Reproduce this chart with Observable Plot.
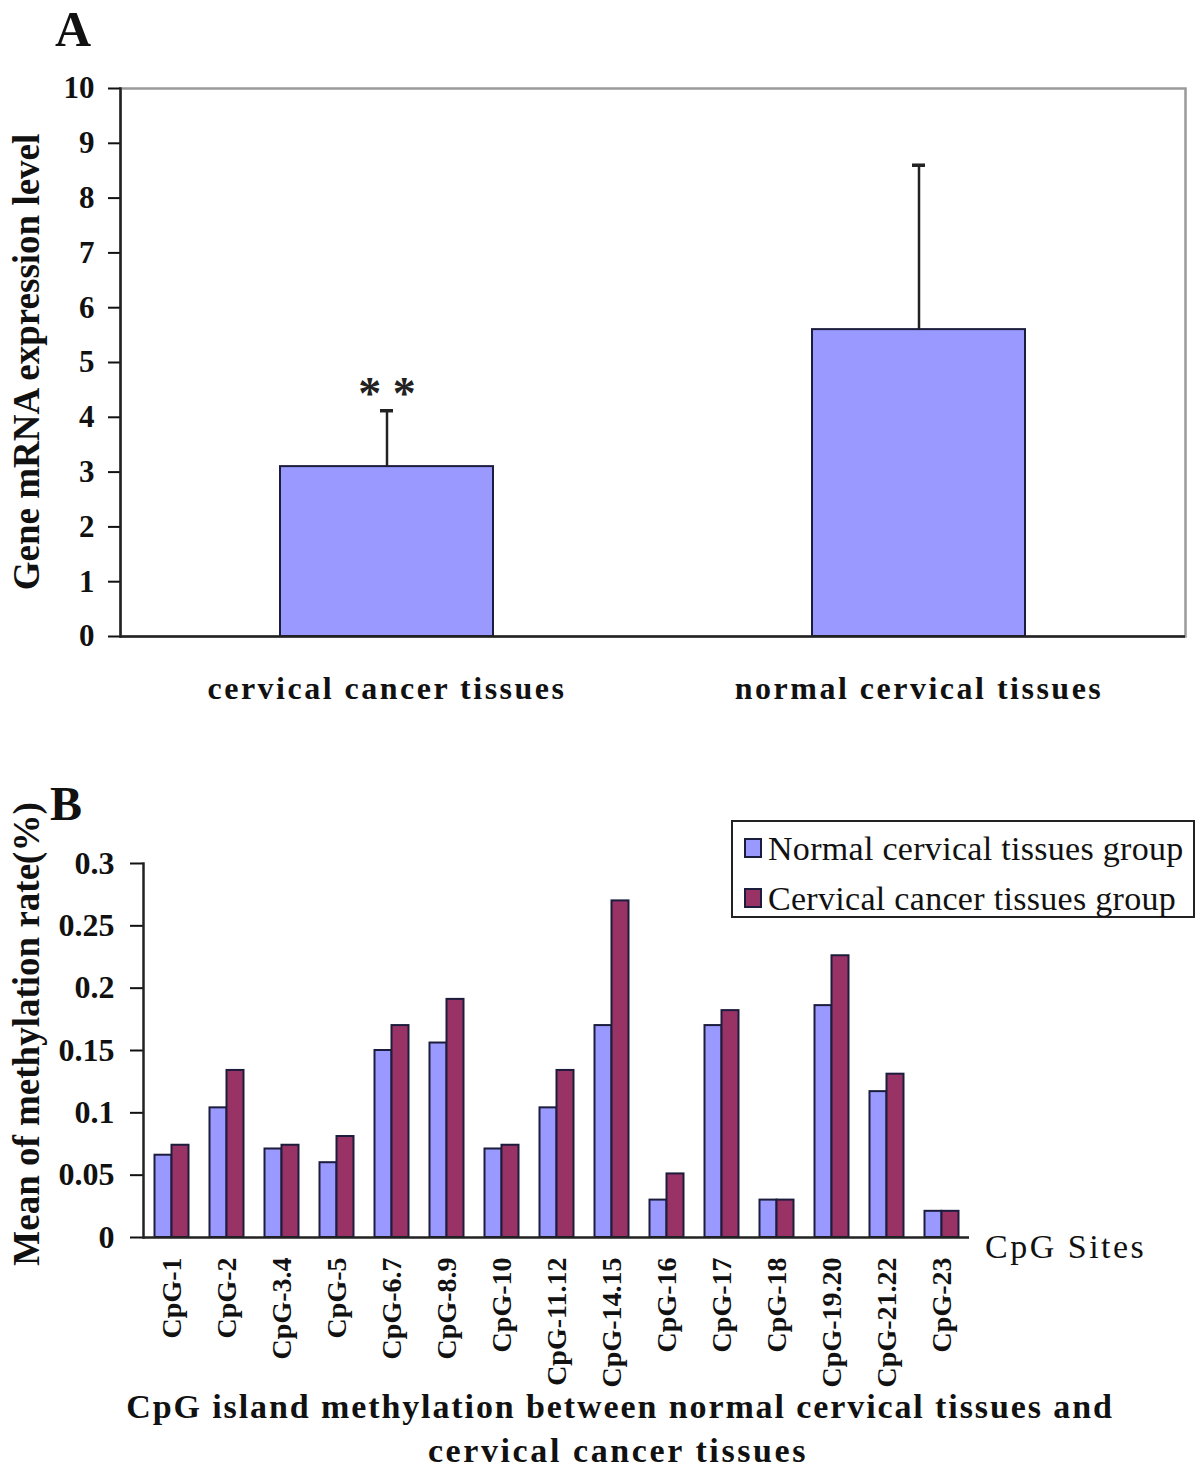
<!DOCTYPE html>
<html>
<head>
<meta charset="utf-8">
<script src="https://cdn.jsdelivr.net/npm/d3@7"></script>
<script src="https://cdn.jsdelivr.net/npm/@observablehq/plot@0.6"></script>
<style>
  html, body { margin: 0; padding: 0; background: #fff; }
  #page { position: relative; width: 1200px; height: 1471px; overflow: hidden; font-family: "Liberation Serif", "Times New Roman", serif; }
  #chartA { position: absolute; left: 0; top: 0; }
  #chartB { position: absolute; left: 0; top: 760px; }
  #overlay { position: absolute; left: 0; top: 0; pointer-events: none; }
  #overlay text { font-family: "Liberation Serif", "Times New Roman", serif; fill: #111; }
</style>
</head>
<body>
<div id="page">
  <div id="chartA"></div>
  <div id="chartB"></div>
  <svg id="overlay" width="1200" height="1471"></svg>
</div>
<script>
// ---------- Panel A data ----------
const groupsA = ["cervical cancer tissues", "normal cervical tissues"];
const meansA = [3.1, 5.6];
const errorsA = [1.02, 3.0];
const yTicksA = [0, 1, 2, 3, 4, 5, 6, 7, 8, 9, 10];
const yTitleA = "Gene mRNA expression level";
const significanceA = "* *";

// ---------- Panel B data ----------
const sites = ["CpG-1", "CpG-2", "CpG-3.4", "CpG-5", "CpG-6.7", "CpG-8.9", "CpG-10", "CpG-11.12",
               "CpG-14.15", "CpG-16", "CpG-17", "CpG-18", "CpG-19.20", "CpG-21.22", "CpG-23"];
const normalRate = [0.066, 0.104, 0.071, 0.060, 0.150, 0.156, 0.071, 0.104, 0.170, 0.030, 0.170, 0.030, 0.186, 0.117, 0.021];
const cancerRate = [0.074, 0.134, 0.074, 0.081, 0.170, 0.191, 0.074, 0.134, 0.270, 0.051, 0.182, 0.030, 0.226, 0.131, 0.021];
const seriesB = ["Normal cervical tissues group", "Cervical cancer tissues group"];
const yTicksB = [0, 0.05, 0.1, 0.15, 0.2, 0.25, 0.3];
const yTitleB = "Mean of methylation rate(%)";
const xTitleB = "CpG Sites";
const captionB = ["CpG island methylation between normal cervical tissues and", "cervical cancer tissues"];

const BLUE = "#9999ff", RED = "#993366", EDGE = "#1c1c3c";
const serif = "Liberation Serif, Times New Roman, serif";

// ---------- Panel A ----------
const dataA = groupsA.map((g, i) => ({group: g, mean: meansA[i], top: meansA[i] + errorsA[i]}));
const chartA = Plot.plot({
  width: 1200, height: 760,
  marginLeft: 120, marginRight: 15, marginTop: 88, marginBottom: 124,
  style: {fontFamily: serif, background: "white", color: "#111", overflow: "visible"},
  x: {domain: groupsA, paddingInner: 0.6, paddingOuter: 0.3, label: null},
  y: {domain: [0, 10], label: null},
  marks: [
    Plot.frame({stroke: "#9a9a9a", strokeWidth: 2.5}),
    Plot.axisY({ticks: yTicksA, tickSize: 12, tickPadding: 14, fontSize: 31, fontWeight: "bold", label: null, strokeWidth: 2}),
    Plot.axisX({tickSize: 0, tickPadding: 40, fontSize: 32, fontWeight: "bold", label: null}),
    Plot.barY(dataA, {x: "group", y: "mean", fill: BLUE, stroke: EDGE, strokeWidth: 2}),
    Plot.ruleX(dataA, {x: "group", y1: "mean", y2: "top", stroke: "#222", strokeWidth: 2.5}),
    Plot.tickY(dataA, {x: "group", y: "top", stroke: "#222", strokeWidth: 3.5, insetLeft: 100, insetRight: 100}),
    Plot.ruleY([0], {stroke: "#222", strokeWidth: 2.5}),
    Plot.frame({anchor: "left", stroke: "#222", strokeWidth: 2.5}),
    Plot.text(dataA.slice(0, 1), {x: "group", y: "top", text: () => significanceA, dy: -16, fontSize: 46, fontWeight: "bold", fill: "#222"})
  ]
});
document.getElementById("chartA").appendChild(chartA);
// letter spacing for category labels (axis text)
d3.select(chartA).selectAll("[aria-label='x-axis tick label'] text").attr("letter-spacing", 2.5);

// ---------- Panel B ----------
const dataB = sites.map((s, i) => ({site: s, normal: normalRate[i], cancer: cancerRate[i]}));
const fmt = d => String(+d.toFixed(2));
const chartB = Plot.plot({
  width: 1200, height: 711,
  marginLeft: 143, marginRight: 231, marginTop: 103, marginBottom: 234,
  style: {fontFamily: serif, background: "white", color: "#111", overflow: "visible"},
  x: {domain: sites, padding: 0, label: null},
  y: {domain: [0, 0.3], label: null},
  marks: [
    Plot.axisY({ticks: yTicksB, tickFormat: fmt, tickSize: 13, tickPadding: 16, fontSize: 32, fontWeight: "bold", label: null, strokeWidth: 2}),
    Plot.axisX({tickSize: 0, tickPadding: 20, tickRotate: -90, fontSize: 28, fontWeight: "bold", label: null}),
    Plot.barY(dataB, {x: "site", y: "normal", fill: BLUE, stroke: EDGE, strokeWidth: 2, insetLeft: 10.5, insetRight: 27.5}),
    Plot.barY(dataB, {x: "site", y: "cancer", fill: RED, stroke: EDGE, strokeWidth: 2, insetLeft: 27.5, insetRight: 10.5}),
    Plot.ruleY([0], {stroke: "#222", strokeWidth: 2.5}),
    Plot.frame({anchor: "left", stroke: "#222", strokeWidth: 2.5})
  ]
});
document.getElementById("chartB").appendChild(chartB);

// ---------- Overlay text: panel letters, titles, legend ----------
const ov = d3.select("#overlay");
function txt(x, y, s, opts = {}) {
  const t = ov.append("text").attr("x", x).attr("y", y).text(s)
    .attr("font-size", opts.size || 30)
    .attr("font-weight", opts.weight || "normal")
    .attr("text-anchor", opts.anchor || "start");
  if (opts.ls) t.attr("letter-spacing", opts.ls);
  if (opts.rotate) t.attr("transform", `rotate(${opts.rotate},${x},${y})`);
  return t;
}
txt(55, 46, "A", {size: 50, weight: "bold"});
txt(50, 820, "B", {size: 48, weight: "bold"});
txt(39, 362, yTitleA, {size: 37, weight: "bold", anchor: "middle", rotate: -90});
txt(39, 1034, yTitleB, {size: 37, weight: "bold", anchor: "middle", rotate: -90});
txt(985, 1258, xTitleB, {size: 34, ls: 2.5});
txt(620, 1418, captionB[0], {size: 34, weight: "bold", anchor: "middle", ls: 1.9});
txt(618, 1462, captionB[1], {size: 34, weight: "bold", anchor: "middle", ls: 2.6});

// legend
ov.append("rect").attr("x", 732).attr("y", 821).attr("width", 462).attr("height", 96)
  .attr("fill", "white").attr("stroke", "#222").attr("stroke-width", 2);
[BLUE, RED].forEach((c, i) => {
  ov.append("rect").attr("x", 745).attr("y", 839 + i * 50).attr("width", 16).attr("height", 18)
    .attr("fill", c).attr("stroke", EDGE).attr("stroke-width", 2);
  txt(768, 860 + i * 50, seriesB[i], {size: 34, ls: 0.3});
});
</script>
</body>
</html>
